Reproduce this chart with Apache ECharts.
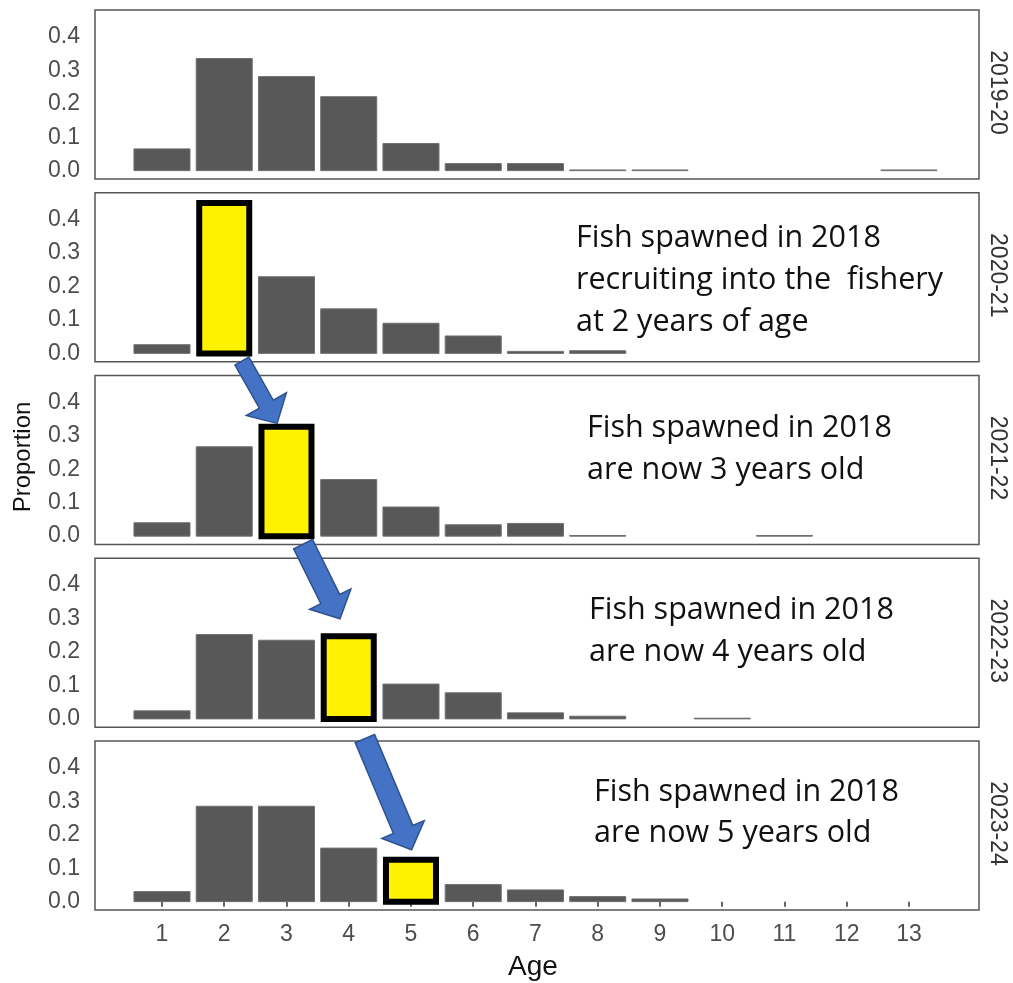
<!DOCTYPE html>
<html>
<head>
<meta charset="utf-8">
<script src="https://cdn.jsdelivr.net/npm/echarts@6/dist/echarts.min.js"></script>
<style>
  html, body { margin: 0; padding: 0; background: #fff; }
  #chart { width: 1013px; height: 983px; }
</style>
</head>
<body>
<div id="chart"></div>
<script>
// Age composition of the catch, one panel per fishing season
const ages = [1, 2, 3, 4, 5, 6, 7, 8, 9, 10, 11, 12, 13];
const seasons = ['2019-20', '2020-21', '2021-22', '2022-23', '2023-24'];

const share2019_20 = [0.065, 0.335, 0.281, 0.221, 0.081, 0.021, 0.021, 0.002, 0.002, 0, 0, 0, 0.002];
const share2020_21 = [0.026, 0.458, 0.229, 0.133, 0.090, 0.052, 0.006, 0.008, 0, 0, 0, 0, 0];
const share2021_22 = [0.040, 0.267, 0.336, 0.169, 0.087, 0.034, 0.038, 0.002, 0, 0, 0.002, 0, 0];
const share2022_23 = [0.024, 0.252, 0.235, 0.256, 0.104, 0.078, 0.018, 0.008, 0, 0.002, 0, 0, 0];
const share2023_24 = [0.030, 0.285, 0.285, 0.160, 0.134, 0.051, 0.035, 0.015, 0.008, 0, 0, 0, 0];
const shares = [share2019_20, share2020_21, share2021_22, share2022_23, share2023_24];

// age of the 2018 year-class in each season (none marked in the first)
const cohortAge = [null, 2, 3, 4, 5];

const yTicks = [0, 0.1, 0.2, 0.3, 0.4];

const notes = [
  null,
  ['Fish spawned in 2018', 'recruiting into the  fishery', 'at 2 years of age'],
  ['Fish spawned in 2018', 'are now 3 years old'],
  ['Fish spawned in 2018', 'are now 4 years old'],
  ['Fish spawned in 2018', 'are now 5 years old']
];

// ---- layout ----
const PANEL_LEFT = 95, PANEL_RIGHT = 34, PANEL_TOP0 = 10, PANEL_STEP = 182.75, PANEL_H = 169;
const BASE_FONT = '"Liberation Sans", Arial, sans-serif';
const NOTE_FONT = '"Open Sans", sans-serif';
const noteLayout = [
  null,
  { left: 576, y: [238, 280, 322] },
  { left: 587, y: [428, 470] },
  { left: 589, y: [610, 652] },
  { left: 594, y: [792, 833] }
];
// arrows follow the year-class from one season to the next: [grid, age, value]
const arrowAnchors = [
  { from: [1, 2.285, -0.023], to: [2, 2.85, 0.337], shaft: 16 },
  { from: [2, 3.267, -0.024], to: [3, 3.86, 0.299], shaft: 21 },
  { from: [4, 4.26, 0.487], to: [4, 5.01, 0.155], shaft: 21 }
];

const chart = echarts.init(document.getElementById('chart'), null, { renderer: 'canvas' });

const grids = [], xAxes = [], yAxes = [], series = [];
seasons.forEach((season, i) => {
  const last = i === seasons.length - 1;
  grids.push({
    left: PANEL_LEFT, right: PANEL_RIGHT,
    top: PANEL_TOP0 + i * PANEL_STEP, height: PANEL_H,
    show: true, borderColor: '#555', borderWidth: 1.5, backgroundColor: '#fff'
  });
  xAxes.push({
    type: 'value', gridIndex: i, min: -0.076, max: 14.125,
    splitLine: { show: false },
    axisLine: { show: false },
    axisTick: { show: last, customValues: ages, length: 5, lineStyle: { color: '#333', width: 1.5 } },
    axisLabel: {
      show: last, customValues: ages, margin: 13,
      fontFamily: BASE_FONT, fontSize: 23, color: '#4d4d4d'
    }
  });
  yAxes.push({
    type: 'value', gridIndex: i, min: -0.025, max: 0.48,
    splitLine: { show: false },
    axisLine: { show: false },
    axisTick: { show: false },
    axisLabel: {
      customValues: yTicks, margin: 15,
      fontFamily: BASE_FONT, fontSize: 23, color: '#4d4d4d',
      formatter: v => Number(v).toFixed(1)
    }
  });
  const highlight = cohortAge[i];
  series.push({
    type: 'custom',
    name: season,
    xAxisIndex: i, yAxisIndex: i,
    data: ages.map((a, k) => [a, shares[i][k]]),
    renderItem: (params, api) => {
      const age = api.value(0), v = api.value(1);
      if (!v) return null;
      const tl = api.coord([age - 0.45, v]);
      const br = api.coord([age + 0.45, 0]);
      const w = br[0] - tl[0], h = br[1] - tl[1];
      if (age === highlight) {
        return {
          type: 'rect',
          z2: 10,
          shape: { x: tl[0] + 3, y: tl[1] + 3, width: w - 6, height: h - 3 },
          style: { fill: '#FFF200', stroke: '#000', lineWidth: 6 }
        };
      }
      return {
        type: 'rect',
        shape: { x: tl[0], y: tl[1], width: w, height: h },
        style: { fill: '#585858', stroke: '#707070', lineWidth: 1 }
      };
    }
  });
});

chart.setOption({
  animation: false,
  backgroundColor: '#fff',
  grid: grids, xAxis: xAxes, yAxis: yAxes, series: series
});

// facet strips, axis titles and notes
const graphics = [];
seasons.forEach((season, i) => {
  const top = PANEL_TOP0 + i * PANEL_STEP;
  graphics.push({
    type: 'text', x: 997, y: top + PANEL_H / 2 - 2, rotation: -Math.PI / 2,
    style: { text: season, font: '23px ' + BASE_FONT, fill: '#333', align: 'center', verticalAlign: 'middle' }
  });
  if (notes[i]) {
    notes[i].forEach((line, k) => {
      graphics.push({
        type: 'text', x: noteLayout[i].left, y: noteLayout[i].y[k], z: 20,
        style: { text: line, font: '30.5px ' + NOTE_FONT, fill: '#111', align: 'left', verticalAlign: 'middle' }
      });
    });
  }
});
graphics.push({
  type: 'text', x: 23, y: 457, rotation: Math.PI / 2,
  style: { text: 'Proportion', font: '24px ' + BASE_FONT, fill: '#111', align: 'center', verticalAlign: 'middle' }
});
graphics.push({
  type: 'text', x: 533, y: 967,
  style: { text: 'Age', font: '28px ' + BASE_FONT, fill: '#111', align: 'center', verticalAlign: 'middle' }
});

// block arrows between the highlighted bars
arrowAnchors.forEach(a => {
  const T = chart.convertToPixel({ gridIndex: a.from[0] }, [a.from[1], a.from[2]]);
  const P = chart.convertToPixel({ gridIndex: a.to[0] }, [a.to[1], a.to[2]]);
  const dx = P[0] - T[0], dy = P[1] - T[1];
  const len = Math.hypot(dx, dy);
  const ux = dx / len, uy = dy / len;
  const nx = -uy, ny = ux;
  const sw = a.shaft / 2, hw = 23, hl = 22;
  const H = [P[0] - ux * hl, P[1] - uy * hl];
  const pts = [
    [T[0] + nx * sw, T[1] + ny * sw],
    [H[0] + nx * sw, H[1] + ny * sw],
    [H[0] + nx * hw, H[1] + ny * hw],
    P,
    [H[0] - nx * hw, H[1] - ny * hw],
    [H[0] - nx * sw, H[1] - ny * sw],
    [T[0] - nx * sw, T[1] - ny * sw]
  ];
  graphics.push({
    type: 'polygon', z: 30,
    shape: { points: pts },
    style: { fill: '#4472C4', stroke: '#2F528F', lineWidth: 1.5 }
  });
});

chart.setOption({ graphic: graphics });
</script>
</body>
</html>
